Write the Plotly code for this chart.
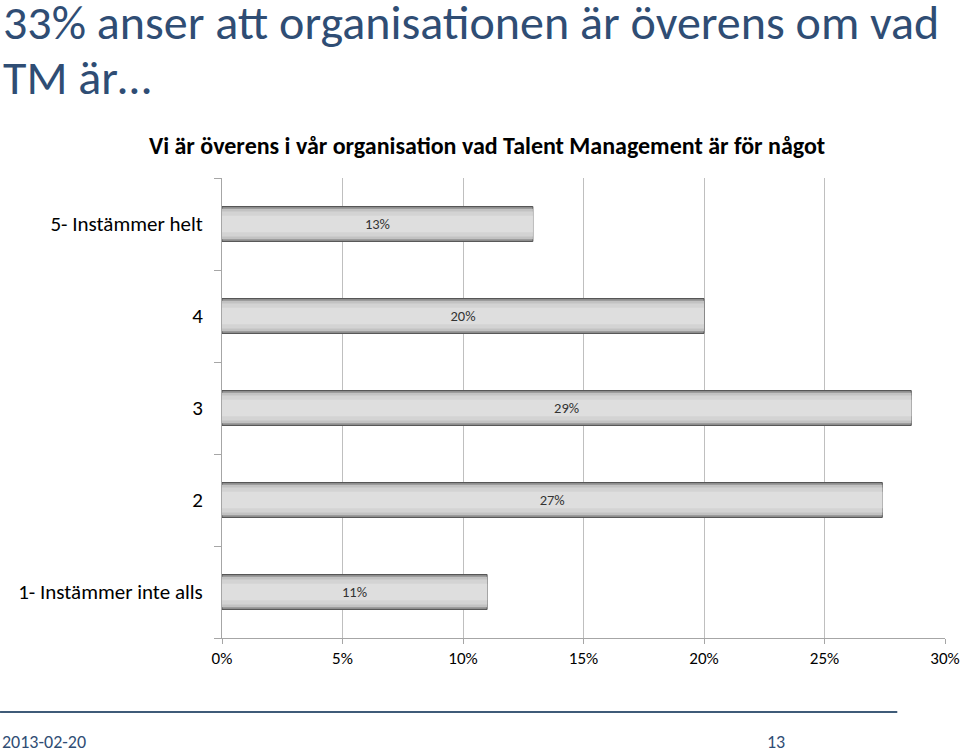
"""
Bar chart: Talent Management survey, agreement level.
"""
import plotly.graph_objects as go

categories = ["5- Instämmer helt", "4", "3", "2", "1- Instämmer inte alls"]
shares = [12.9, 20.0, 28.6, 27.4, 11.0]
share_labels = ["13%", "20%", "29%", "27%", "11%"]
x_ticks = [0, 5, 10, 15, 20, 25, 30]
x_tick_labels = ["0%", "5%", "10%", "15%", "20%", "25%", "30%"]

font_family = "Calibri, Carlito, 'Liberation Sans Narrow', 'Open Sans', sans-serif"
title_blue = "#2f4d74"

fig = go.Figure()

# stacked overlays of the same bars, narrower and lighter each time, for the bevel look
bevel = [
    (0.38, "#8f8f8f", dict(color="#555555", width=1)),
    (0.33, "#c2c2c2", dict(width=0)),
    (0.27, "#d3d3d3", dict(width=0)),
    (0.18, "#dedede", dict(width=0)),
]
for i, (w, col, edge) in enumerate(bevel):
    last = i == len(bevel) - 1
    fig.add_trace(go.Bar(
        y=categories,
        x=shares,
        orientation="h",
        width=w,
        marker=dict(color=col, line=edge),
        text=share_labels if last else None,
        textposition="inside" if last else "none",
        insidetextanchor="middle",
        constraintext="none",
        textfont=dict(size=14.5, color="#333333", family=font_family),
        hoverinfo="skip",
    ))

fig.update_layout(
    width=960,
    height=752,
    barmode="overlay",
    showlegend=False,
    plot_bgcolor="white",
    paper_bgcolor="white",
    margin=dict(l=222, r=15, t=178, b=114),
    font=dict(family=font_family, color="#000000"),
    xaxis=dict(
        range=[0, 30],
        tickvals=x_ticks,
        ticktext=x_tick_labels,
        showgrid=True,
        gridcolor="#bfbfbf",
        gridwidth=1,
        showline=True,
        linecolor="#a6a6a6",
        ticks="outside",
        ticklen=5,
        tickcolor="#a6a6a6",
        tickfont=dict(size=17, color="#000000"),
        zeroline=False,
        automargin=False,
    ),
    yaxis=dict(
        categoryorder="array",
        categoryarray=categories[::-1],
        showline=True,
        linecolor="#a6a6a6",
        ticks="outside",
        tickson="boundaries",
        ticklen=7,
        tickcolor="#a6a6a6",
        ticklabelstandoff=14,
        tickfont=dict(size=21, color="#000000"),
        showgrid=False,
        automargin=False,
    ),
    annotations=[
        dict(
            text="33% anser att organisationen är överens om vad",
            xref="paper", yref="paper",
            x=-0.306, y=1.337,
            xanchor="left", yanchor="middle",
            showarrow=False,
            font=dict(size=48, color=title_blue, family=font_family),
        ),
        dict(
            text="TM är…",
            xref="paper", yref="paper",
            x=-0.306, y=1.219,
            xanchor="left", yanchor="middle",
            showarrow=False,
            font=dict(size=48, color=title_blue, family=font_family),
        ),
        dict(
            text="<b>Vi är överens i vår organisation vad Talent Management är för något</b>",
            xref="paper", yref="paper",
            x=0.3665, y=1.07,
            xanchor="center", yanchor="middle",
            showarrow=False,
            font=dict(size=24, color="#000000", family=font_family),
        ),
        dict(
            text="2013-02-20",
            xref="paper", yref="paper",
            x=-0.307, y=-0.226,
            xanchor="left", yanchor="middle",
            showarrow=False,
            font=dict(size=18, color=title_blue, family=font_family),
        ),
        dict(
            text="13",
            xref="paper", yref="paper",
            x=0.766, y=-0.226,
            xanchor="center", yanchor="middle",
            showarrow=False,
            font=dict(size=18, color=title_blue, family=font_family),
        ),
    ],
    shapes=[
        dict(
            type="line",
            xref="paper", yref="paper",
            x0=-0.307, x1=0.934, y0=-0.161, y1=-0.161,
            line=dict(color="#3f5b78", width=2),
        ),
    ],
)

# drop the default page margin so the figure sits at the window's corner
fig.write_html(
    "out.html",
    config={"displayModeBar": False},
    post_script="document.body.style.margin='0';",
)
